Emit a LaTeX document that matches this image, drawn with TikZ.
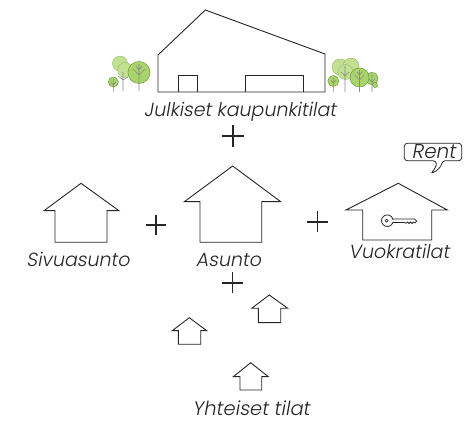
\documentclass[tikz,border=0pt]{standalone}
\usepackage{fontspec}
\IfFontExistsTF{Poppins Light}
  {\setmainfont{Poppins Light}[FakeSlant=0.18]}
  {\setmainfont{Poppins}[FakeSlant=0.18]}
\begin{document}
\begin{tikzpicture}[x=1pt,y=-1pt,
  line join=miter,
  outline/.style={draw=ink,line width=0.9pt},
  plussign/.style={draw=ink,line width=1.3pt},
  caption/.style={text=ink,font=\fontsize{19}{22}\selectfont,anchor=base,inner sep=0pt},
  leaf/.style={fill=leafgreen,draw=leafedge,line width=0.5pt},
  leafpale/.style={fill=leafpale,draw=leafedge!70,line width=0.4pt},
  twig/.style={draw=twiggray,line width=0.6pt}]
\definecolor{ink}{HTML}{262626}
\definecolor{leafgreen}{HTML}{A8D46C}
\definecolor{leafpale}{HTML}{C2E08F}
\definecolor{leafedge}{HTML}{6E9E3A}
\definecolor{twiggray}{HTML}{8A8A8A}
\useasboundingbox[fill=white] (0,0) rectangle (472,422);

% ---- public hall ----
\draw[outline] (158,92) -- (158,55) -- (205.3,10) -- (325,54) -- (325,92) -- cycle;
\draw[outline] (178.3,92) -- (178.3,75.7) -- (197.7,75.7) -- (197.7,92);
\draw[outline] (245.7,92) -- (245.7,75.7) -- (303.3,75.7) -- (303.3,92);

% ---- trees, left group ----
\draw[leafpale] (120,63.5) circle[radius=7.5];
\draw[leafpale] (125,70) circle[radius=7.5];
\draw[twig] (123,72) -- (123,91) (123,80) -- (118,76) (123,80) -- (128,77);
\draw[leaf] (113.3,82) circle[radius=5];
\draw[twig] (113.3,79) -- (113.3,92) (113.3,85) -- (110.5,82) (113.3,85) -- (116,82);
\draw[leaf] (139,72.5) circle[radius=11];
\draw[twig] (139,64) -- (139,91) (139,75) -- (133,69) (139,75) -- (145,69) (139,70) -- (136,66) (139,70) -- (142,66);

% ---- trees, right group ----
\draw[leafpale] (340,67) circle[radius=8];
\draw[leafpale] (351,66) circle[radius=8];
\draw[leafpale] (345.5,72) circle[radius=7.5];
\draw[twig] (345,66) -- (345,92) (345,76) -- (341,72) (345,76) -- (349,72);
\draw[leaf] (333.3,81) circle[radius=5.5];
\draw[twig] (333.3,78) -- (333.3,92) (333.3,83) -- (330.5,80) (333.3,83) -- (336,80);
\draw[leaf] (372,78.5) circle[radius=6];
\draw[leaf] (375,85) circle[radius=2.5];
\draw[twig] (372,75) -- (372,92) (372,82) -- (369,79) (372,82) -- (375,79);
\draw[leaf] (359.5,77.5) circle[radius=9.5];
\draw[twig] (359.5,70) -- (359.5,92) (359.5,80) -- (354.5,75) (359.5,80) -- (364.5,75) (359.5,75) -- (357,72) (359.5,75) -- (362,72);

\node[caption] (hall) at (240,116.5) {Julkiset kaupunkitilat};
\draw[plussign] (222,136) -- (244,136) (233,125) -- (233,147);

% ---- second home ----
\draw[outline] (44,210.7) -- (81,183.3) -- (119,210.7) -- (107,210.7) -- (107,242.3)
  -- (55,242.3) -- (55,210.7) -- cycle;
\node[caption] (sivu) at (78,266.5) {Sivuasunto};
\draw[plussign] (146,225) -- (166,225) (156,215) -- (156,235);

% ---- home ----
\draw[outline] (184.3,201.7) -- (232.7,166) -- (280.7,201.7) -- (261.7,201.7) -- (261.7,242.3)
  -- (200,242.3) -- (200,201.7) -- cycle;
\node[caption] (asunto) at (228.5,266.5) {Asunto};
\draw[plussign] (307,222) -- (328,222) (317.5,211.5) -- (317.5,232.5);

% ---- rental space ----
\draw[outline] (346,210) -- (398.3,183.3) -- (447.3,210) -- (431.7,210) -- (431.7,240)
  -- (362.7,240) -- (362.7,210) -- cycle;
% key: bow ring, gap for the shaft, shaft with bit
\draw[ink,line width=0.8pt] (387.3,220.7) circle[radius=5.8];
\fill[white] (391,219.6) rectangle (394.5,222.2);
\draw[ink,line width=0.6pt] (386.6,220.7) circle[radius=1.5];
\draw[ink,line width=0.75pt] (392.8,219) -- (414.5,219) -- (416.7,221) -- (415,223)
  -- (413.5,222) -- (412,223.5) -- (410.5,222) -- (409,223.5) -- (407.5,222) -- (406,223.2)
  -- (404.5,222.6) -- (392.8,222.6);
% speech bubble
\draw[outline,line width=0.8pt,rounded corners=3pt] (404.3,160.7) -- (404.3,143.3) -- (461.7,143.3)
  -- (461.7,160.7) -- (442.5,160.7) .. controls (441,167) and (437,171) .. (430.5,173.5)
  .. controls (435,169) and (436.5,165) .. (436,160.7) -- cycle;
\node[caption,font=\fontsize{20}{23}\selectfont] (rent) at (433.5,158.3) {Rent};
\node[caption] (vuokra) at (399,258.5) {Vuokratilat};
\draw[plussign] (222,283) -- (243,283) (232.5,272.5) -- (232.5,293.5);

% ---- shared spaces ----
\draw[outline] (251.7,308.3) -- (269.3,295) -- (287.7,308.3) -- (280.7,308.3) -- (280.7,322.7)
  -- (258.3,322.7) -- (258.3,308.3) -- cycle;
\draw[outline] (172.3,330.7) -- (189.3,317.7) -- (206.7,330.7) -- (200.7,330.7) -- (200.7,344.3)
  -- (178.3,344.3) -- (178.3,330.7) -- cycle;
\draw[outline] (233.3,376.7) -- (250.7,362.7) -- (268.3,376.7) -- (261.7,376.7) -- (261.7,390)
  -- (240,390) -- (240,376.7) -- cycle;
\node[caption,font=\fontsize{19.5}{22}\selectfont] (yht) at (251,415.5) {Yhteiset tilat};
\end{tikzpicture}
\end{document}
